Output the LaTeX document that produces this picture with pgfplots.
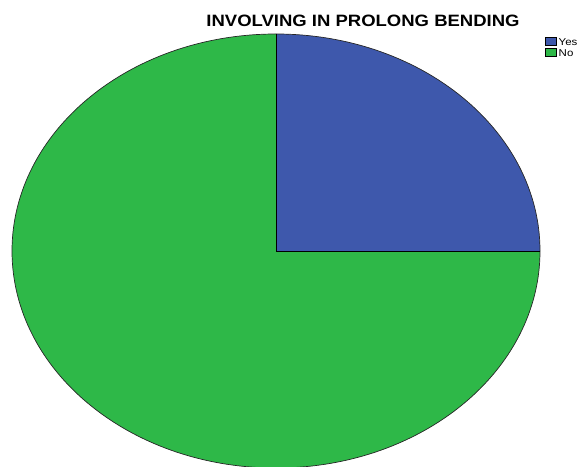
\documentclass[border=0pt]{standalone}
\usepackage{pgfplots}
\usepackage{pgfplotstable}
\pgfplotsset{compat=1.18}
\usepackage{fontspec}
\setmainfont{Liberation Sans}
\definecolor{spssblue}{RGB}{62,88,172}
\definecolor{spssgreen}{RGB}{46,184,72}
\pgfplotstableread{
label value
Yes 25
No 75
}\piedata
\begin{document}
\begin{tikzpicture}
\pgfplotstablegetelem{0}{value}\of\piedata \let\valYes\pgfplotsretval
\pgfplotstablegetelem{1}{value}\of\piedata \let\valNo\pgfplotsretval
\pgfmathsetmacro\angYes{360*\valYes/(\valYes+\valNo)}
\begin{axis}[
  at={(0,0)}, anchor=south west,
  scale only axis, width=582bp, height=467bp,
  xmin=0, xmax=582, ymin=0, ymax=467,
  hide axis, clip=false,
]
\fill[spssgreen] (axis cs:276,216) -- (axis cs:276,433) arc[start angle=90, end angle=360, x radius=264bp, y radius=217bp] -- cycle;
\fill[spssblue] (axis cs:276,216) -- (axis cs:540,216) arc[start angle=0, end angle=\angYes, x radius=264bp, y radius=217bp] -- cycle;
\draw[black!85, line width=0.7pt] (axis cs:276,216) ellipse [x radius=264bp, y radius=217bp];
\draw[black, line width=0.7pt] (axis cs:276,433) -- (axis cs:276,216) -- (axis cs:540,216);
% legend
\draw[fill=spssblue, draw=black, line width=0.5pt] (axis cs:545.5,430) rectangle (axis cs:556,421.5);
\draw[fill=spssgreen, draw=black, line width=0.5pt] (axis cs:545.5,419) rectangle (axis cs:556,410.5);
\node[font=\fontsize{10}{11}\selectfont, anchor=base west, inner sep=0pt, xscale=1.15] at (axis cs:558.5,421.5) {Yes};
\node[font=\fontsize{10}{11}\selectfont, anchor=base west, inner sep=0pt, xscale=1.15] at (axis cs:558.5,410.5) {No};
\node[font=\fontsize{16.5}{18}\bfseries\selectfont, anchor=base, xscale=1.125] at (axis cs:363,440.5) {INVOLVING IN PROLONG BENDING};
\end{axis}
\pgfresetboundingbox
\path[use as bounding box] (0,0) rectangle (582bp,467bp);
\end{tikzpicture}
\end{document}
